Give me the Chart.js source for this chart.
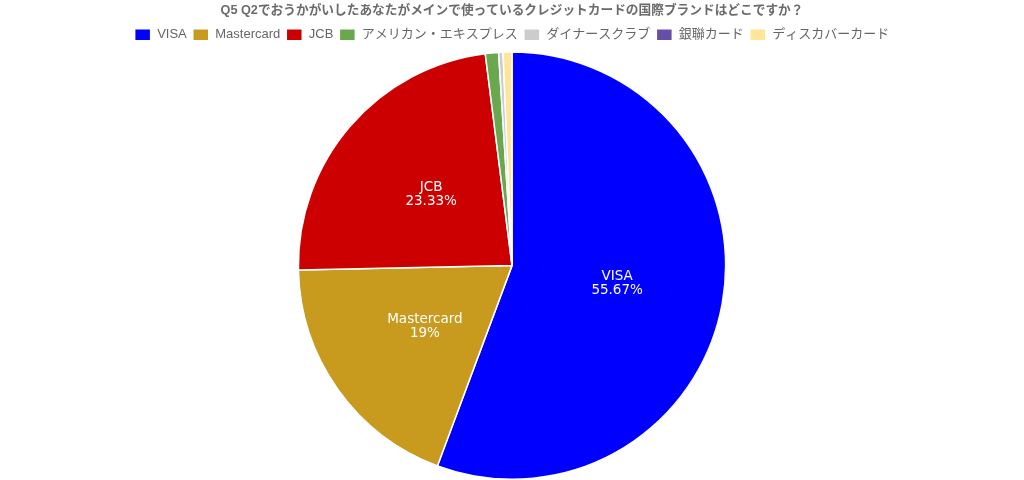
<!DOCTYPE html>
<html><head><meta charset="utf-8">
<script src="https://cdn.jsdelivr.net/npm/chart.js@4/dist/chart.umd.min.js"></script>
<style>html,body{margin:0;padding:0;background:#fff}#wrap{width:1024px;height:480px}</style>
</head><body><div id="wrap"><canvas id="c"></canvas></div>
<script>
const titleText = 'Q5 Q2でおうかがいしたあなたがメインで使っているクレジットカードの国際ブランドはどこですか？';
const categories = ['VISA','Mastercard','JCB','アメリカン・エキスプレス','ダイナースクラブ','銀聯カード','ディスカバーカード'];
const values = [55.67, 19, 23.33, 1, 0.33, 0, 0.67];
const colors = ['#0000ff','#c89b1e','#cc0000','#6aa84f','#cccccc','#674ea7','#ffe599'];
const shownLabels = [true, true, true, false, false, false, false];

const FONT = "'Liberation Sans', Arial, 'Noto Sans CJK JP', sans-serif";

const labelPlugin = {
  id: 'sliceLabels',
  afterDatasetsDraw(chart) {
    const ctx = chart.ctx;
    const meta = chart.getDatasetMeta(0);
    ctx.save();
    ctx.fillStyle = '#ffffff';
    ctx.font = "13.5px 'DejaVu Sans', Verdana, sans-serif";
    ctx.textAlign = 'center';
    ctx.textBaseline = 'middle';
    meta.data.forEach((arc, i) => {
      if (!shownLabels[i]) return;
      const p = arc.getProps(['x','y','startAngle','endAngle','outerRadius'], true);
      const mid = (p.startAngle + p.endAngle) / 2;
      const r = p.outerRadius * 0.5;
      const x = p.x + Math.cos(mid) * r;
      const y = p.y + Math.sin(mid) * r;
      ctx.fillText(categories[i], x, y - 8);
      ctx.fillText(values[i] + '%', x, y + 6);
    });
    ctx.restore();
  }
};

new Chart(document.getElementById('c'), {
  type: 'pie',
  data: {
    labels: categories,
    datasets: [{ data: values, backgroundColor: colors, borderColor: '#ffffff', borderWidth: 1.5 }]
  },
  options: {
    responsive: true,
    maintainAspectRatio: false,
    animation: false,
    layout: { padding: 0 },
    plugins: {
      title: { display: true, text: titleText, color: '#6b6b6b', font: { family: FONT, size: 12.7, weight: 'bold' }, padding: { top: 3, bottom: 4 } },
      legend: { position: 'top', labels: { color: '#666666', font: { family: FONT, size: 13 }, boxWidth: 16, boxHeight: 12, padding: 6 } },
      tooltip: { enabled: false }
    }
  },
  plugins: [labelPlugin]
});
</script></body></html>
